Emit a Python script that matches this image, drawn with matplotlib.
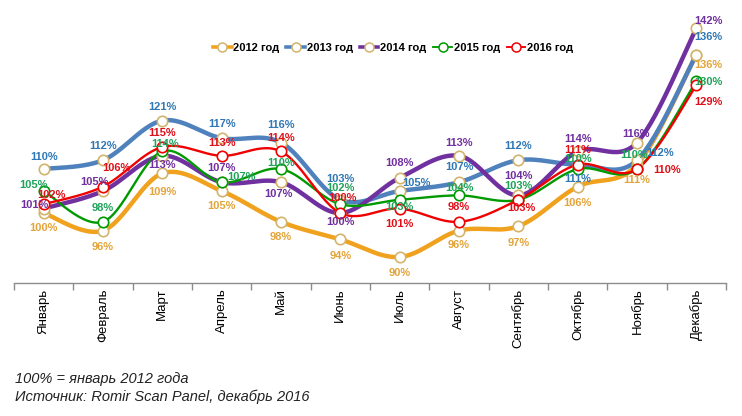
import numpy as np
import matplotlib
matplotlib.use("Agg")
import matplotlib.pyplot as plt
from matplotlib.lines import Line2D

months = ["Январь", "Февраль", "Март", "Апрель", "Май", "Июнь", "Июль",
          "Август", "Сентябрь", "Октябрь", "Ноябрь", "Декабрь"]
series_names = ["2012 год", "2013 год", "2014 год", "2015 год", "2016 год"]
v2012 = [100, 96, 109, 105, 98, 94, 90, 96, 97, 106, 111, 136]
v2013 = [110, 112, 121, 117, 116, 103, 105, 107, 112, 111, 112, 136]
v2014 = [101, 105, 113, 107, 107, 100, 108, 113, 104, 114, 116, 142]
v2015 = [105, 98, 114, 107, 110, 102, 103, 104, 103, 110, 110, 130]
v2016 = [102, 106, 115, 113, 114, 100, 101, 98, 103, 111, 110, 129]
footnote1 = "100% = январь 2012 года"
footnote2 = "Источник: Romir Scan Panel, декабрь 2016"

values = [v2012, v2013, v2014, v2015, v2016]
line_colors = ["#F0A21E", "#4F81BD", "#7030A0", "#009A00", "#F00000"]
label_colors = ["#E3A43A", "#2F78B5", "#7030A0", "#1FA35A", "#E0101A"]
marker_edges = ["#D2B46C", "#D2B46C", "#D2B46C", "#009A00", "#F00000"]
widths = [3.2, 3.2, 3.2, 1.7, 1.7]

# label offsets in pixels (dx, dy) per series per month
offsets = [
    [(0, -15), (0, -16), (0, -19), (0, -15), (0, -15), (0, -17), (0, -16), (0, -14), (0, -17), (0, -16), (0, -15), (12, -10)],
    [(0, 12), (0, 14), (0, 14), (0, 14), (0, 18), (0, 21), (17, 8), (0, 15), (0, 14), (0, -14), (23, 7), (12, 18)],
    [(-9, 4), (-9, 9), (0, -9), (0, 14), (-3, -12), (0, -9), (0, 15), (0, 13), (0, 19), (0, 12), (-1, 9), (12, 7)],
    [(-10, 6), (0, 14), (3, 7), (20, 5), (0, 6), (0, 16), (0, -7), (0, 7), (0, 14), (0, 10), (-3, 14), (12, -1)],
    [(8, 9), (13, 19), (0, 14), (0, 13), (0, 13), (2, 15), (0, -15), (0, 15), (3, -8), (0, 15), (30, -1), (12, -17)],
]


def smooth(x, y, n=30):
    x = np.asarray(x, float)
    y = np.asarray(y, float)
    P = np.column_stack([x, y])
    ext = np.vstack([P[0], P, P[-1]])
    out = []
    t = np.linspace(0, 1, n)
    for i in range(len(P) - 1):
        p0, p1, p2, p3 = ext[i], ext[i + 1], ext[i + 2], ext[i + 3]
        c1 = p1 + (p2 - p0) / 6.0
        c2 = p2 - (p3 - p1) / 6.0
        b = ((1 - t) ** 3)[:, None] * p1 + (3 * (1 - t) ** 2 * t)[:, None] * c1 + \
            (3 * (1 - t) * t ** 2)[:, None] * c2 + (t ** 3)[:, None] * p2
        out.append(b if i == 0 else b[1:])
    B = np.vstack(out)
    return B[:, 0], B[:, 1]


plt.rcParams['font.family'] = ['Liberation Sans', 'DejaVu Sans']

fig = plt.figure(figsize=(7.42, 4.16), dpi=100)
W, H = 742, 416
ax = fig.add_axes([14 / W, (H - 283) / H, (726 - 14) / W, (283 - 20) / H])

x = np.arange(len(months))
for k in range(len(values)):
    sx, sy = smooth(x, values[k])
    ax.plot(sx, sy, color=line_colors[k], lw=widths[k], solid_capstyle='round', zorder=2 + k * 0.1)
for k in range(len(values)):
    ax.plot(x, values[k], ls='none', marker='o', ms=7.5, mfc='white',
            mec=marker_edges[k], mew=1.2, zorder=4)
for k in range(len(values)):
    for i, v in enumerate(values[k]):
        dx, dy = offsets[k][i]
        ax.annotate(f"{v}%", (x[i], v), xytext=(dx, dy), textcoords='offset pixels',
                    ha='center', va='center', fontsize=8, fontweight='bold',
                    color=label_colors[k], zorder=6)

ax.set_xlim(-0.5, len(months) - 0.5)
ax.set_ylim(100 - 70 / 4.4, 100 + 193 / 4.4)
for s in ['top', 'right', 'left']:
    ax.spines[s].set_visible(False)
ax.spines['bottom'].set_color('#8C8C8C')
ax.spines['bottom'].set_linewidth(1.0)
ax.set_yticks([])
ax.set_xticks(np.arange(-0.5, len(months) + 0.5, 1.0))
ax.set_xticklabels([])
ax.tick_params(axis='x', length=5, color='#8C8C8C', width=1.0, direction='out')
ax.set_xticks(x, minor=True)
ax.set_xticklabels(months, minor=True, rotation=90, fontsize=9.5, va='top', ha='center')
ax.tick_params(axis='x', which='minor', length=0, pad=4)

handles = [Line2D([0], [0], color=line_colors[k], lw=widths[k] * 0.8, marker='o', ms=6.5,
                  mfc='white', mec=marker_edges[k], mew=1.1) for k in range(len(values))]
leg = fig.legend(handles, series_names, loc='center', bbox_to_anchor=(393 / W, 1 - 48 / H),
                 ncol=5, frameon=False, handlelength=1.7, handletextpad=0.15,
                 columnspacing=0.6, prop={'weight': 'bold', 'size': 8})

fig.text(15 / W, 1 - 379 / H, footnote1, fontsize=10.5, style='italic', va='center', ha='left', color='#222222')
fig.text(15 / W, 1 - 397 / H, footnote2, fontsize=10.5, style='italic', va='center', ha='left', color='#222222')

fig.savefig("out.png", dpi=100)
